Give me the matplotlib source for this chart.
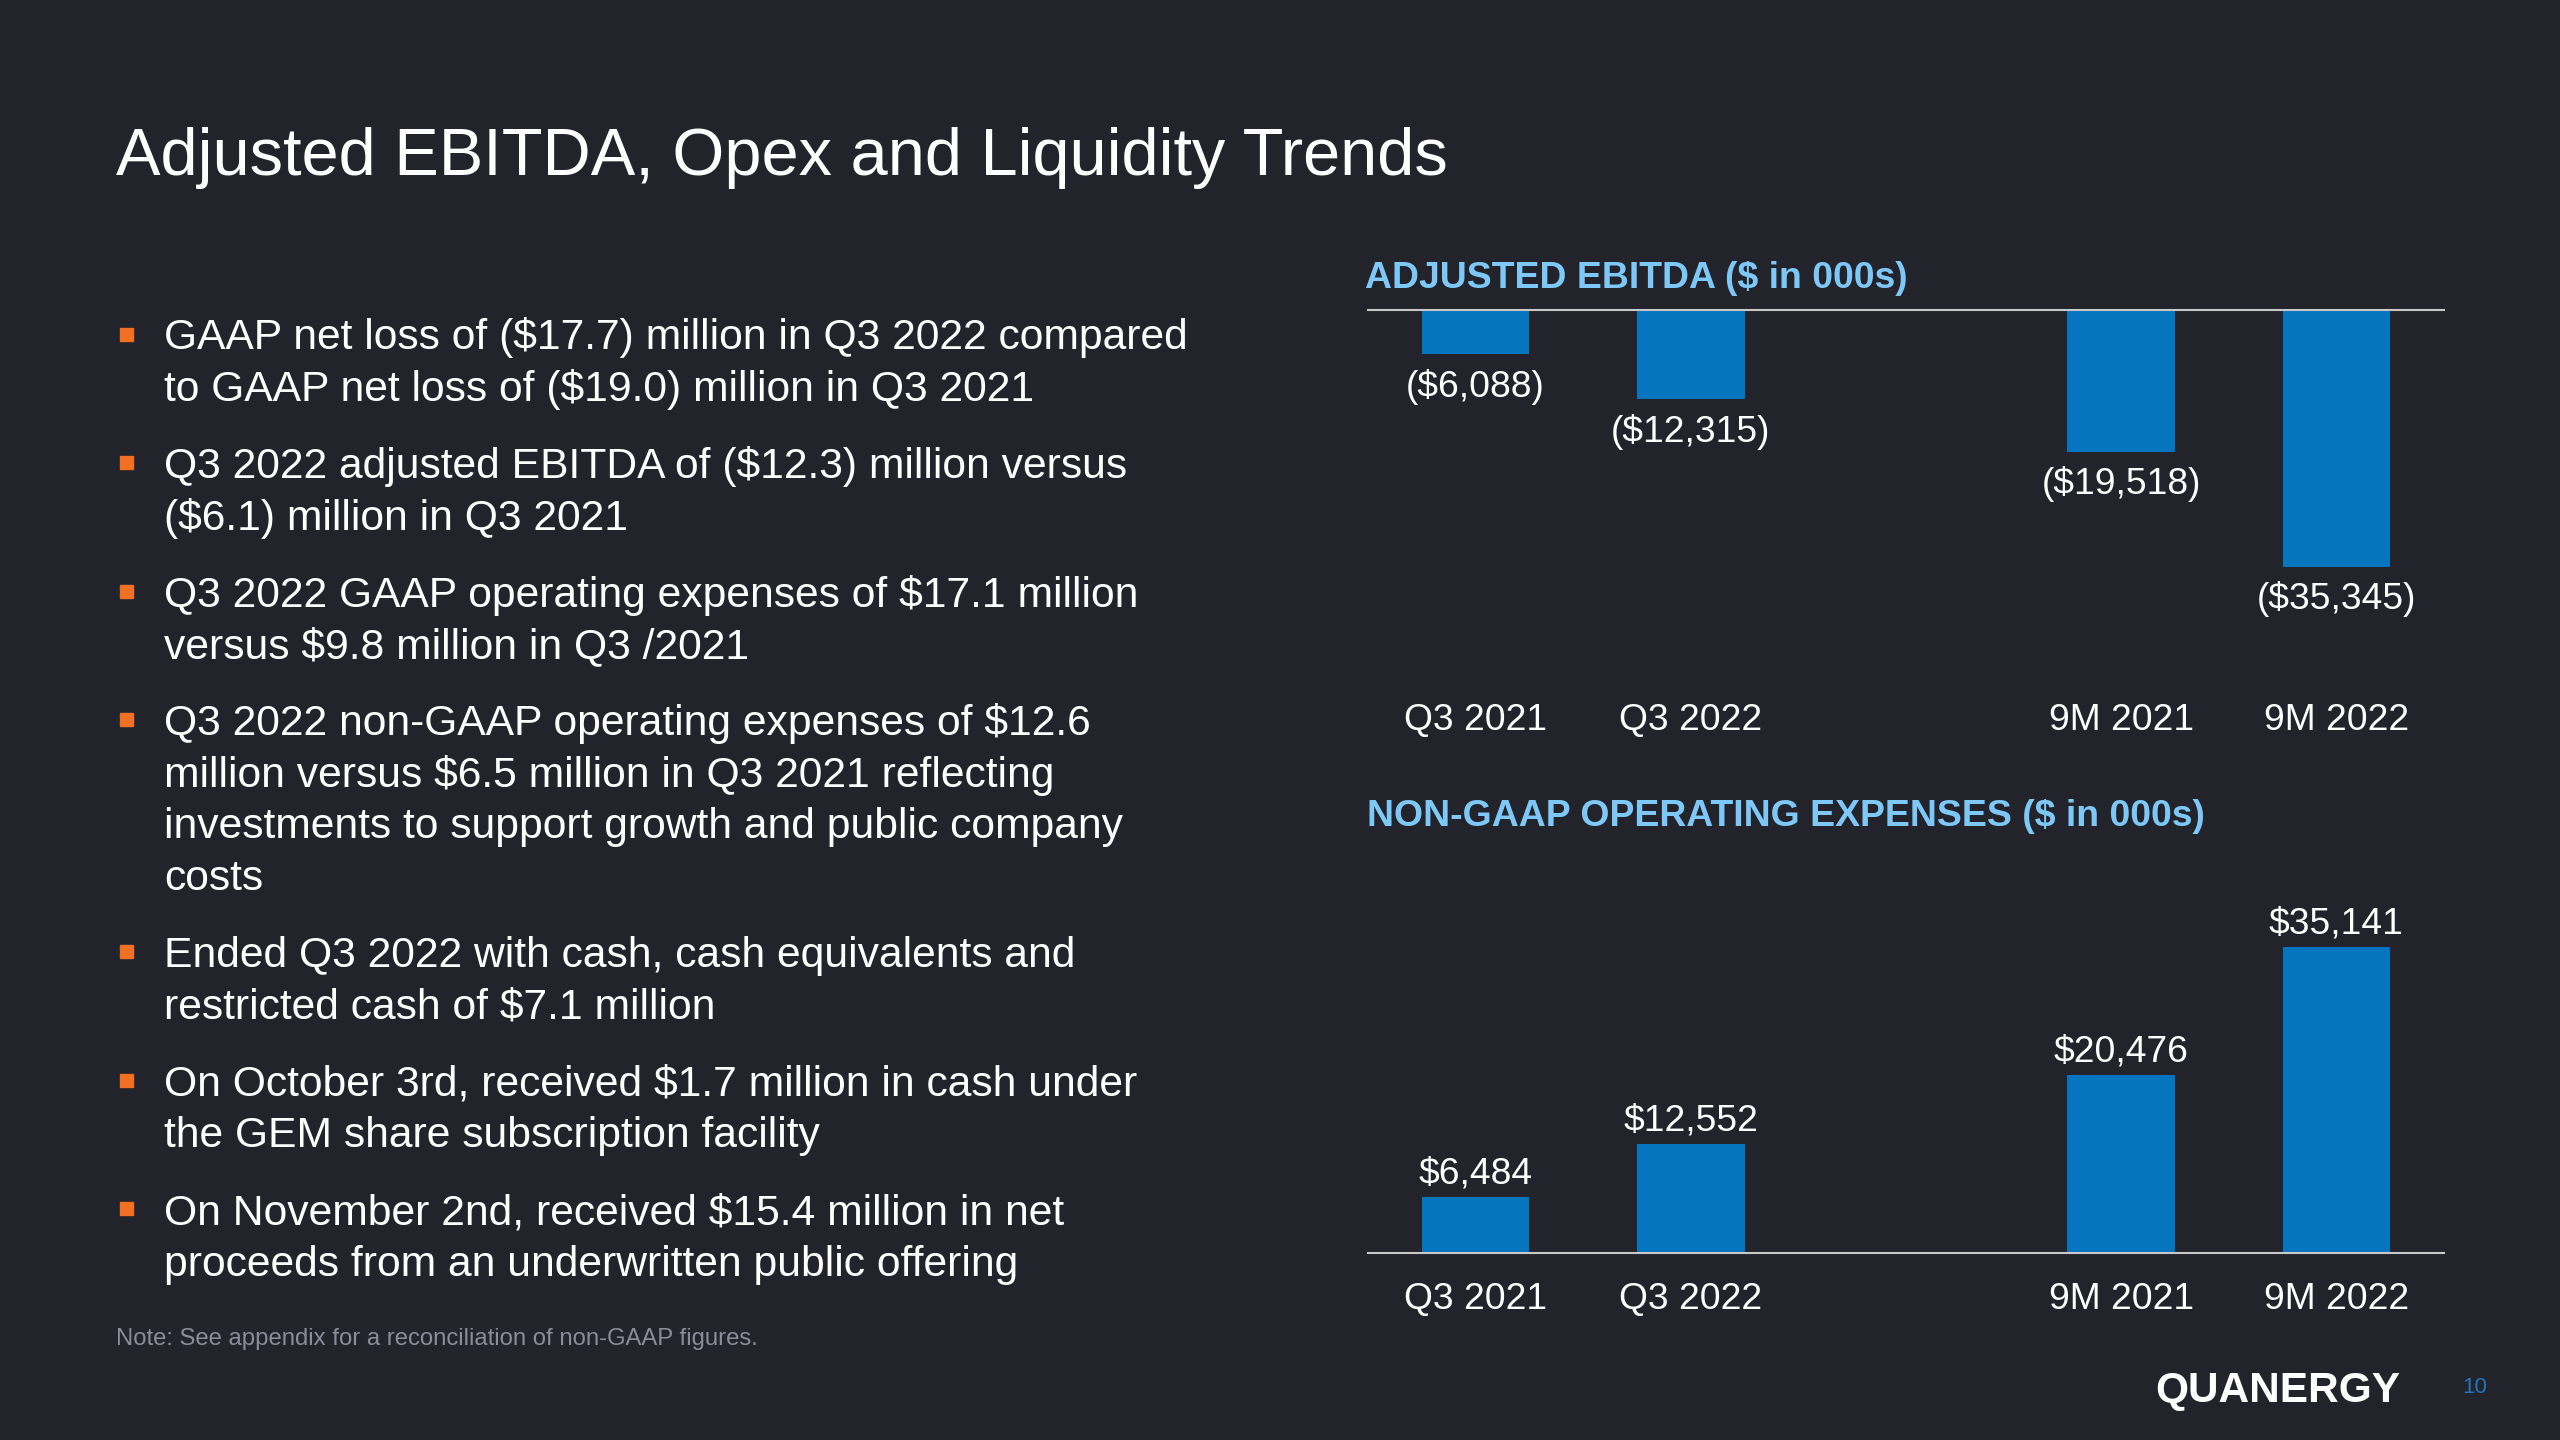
import matplotlib
matplotlib.use("Agg")
import matplotlib.pyplot as plt
from matplotlib.patches import Rectangle

plt.rcParams['font.family'] = ['Liberation Sans', 'DejaVu Sans']

# ---------------- data ----------------
slide_title = "Adjusted EBITDA, Opex and Liquidity Trends"
categories = ["Q3 2021", "Q3 2022", "9M 2021", "9M 2022"]
ebitda_values = [-6088, -12315, -19518, -35345]
ebitda_labels = ["($6,088)", "($12,315)", "($19,518)", "($35,345)"]
opex_values = [6484, 12552, 20476, 35141]
opex_labels = ["$6,484", "$12,552", "$20,476", "$35,141"]
chart1_title = "ADJUSTED EBITDA ($ in 000s)"
chart2_title = "NON-GAAP OPERATING EXPENSES ($ in 000s)"
bullets = [
    ["GAAP net loss of ($17.7) million in Q3 2022 compared",
     "to GAAP net loss of ($19.0) million in Q3 2021"],
    ["Q3 2022 adjusted EBITDA of ($12.3) million versus",
     "($6.1) million in Q3 2021"],
    ["Q3 2022 GAAP operating expenses of $17.1 million",
     "versus $9.8 million in Q3 /2021"],
    ["Q3 2022 non-GAAP operating expenses of $12.6",
     "million versus $6.5 million in Q3 2021 reflecting",
     "investments to support growth and public company",
     "costs"],
    ["Ended Q3 2022 with cash, cash equivalents and",
     "restricted cash of $7.1 million"],
    ["On October 3rd, received $1.7 million in cash under",
     "the GEM share subscription facility"],
    ["On November 2nd, received $15.4 million in net",
     "proceeds from an underwritten public offering"],
]
note_text = "Note: See appendix for a reconciliation of non-GAAP figures."
logo_text = "QUANERGY"
page_number = "10"

# ---------------- style ----------------
W, H = 2560, 1440
BG = '#22232B'
BAR = '#0575C0'
TITLE_BLUE = '#7DC8F7'
ORANGE = '#F36F21'
LINE = '#C8C8C8'
TEXT = '#FFFFFF'
NOTE = '#8A8C98'
PAGE = '#1F74BC'

# gap between the quarter pair and the nine-month pair
x_pos = [0, 1, 3, 4]

fig = plt.figure(figsize=(25.6, 14.4), dpi=100, facecolor=BG)
renderer = fig.canvas.get_renderer()


def fx(x):
    return x / W


def fy(y):
    return 1 - y / H


def fit(t, target):
    bb = t.get_window_extent(renderer)
    t.set_fontsize(t.get_fontsize() * target / bb.width)
    return t.get_fontsize()


# title
t = fig.text(fx(116), fy(175), slide_title, color=TEXT, fontsize=48,
             ha='left', va='baseline')
fit(t, 1331)

# bullets
probe = fig.text(0, 0, bullets[0][0], fontsize=32)
bsize = fit(probe, 1026)
probe.remove()
line_pitch = 51.5
para_gap = 25.6
y = 349.5
for para in bullets:
    cap_c = y - 15.5
    fig.patches.append(Rectangle((fx(119.5), fy(cap_c + 6.5)), 13 / W, 13 / H,
                                 transform=fig.transFigure, color=ORANGE,
                                 figure=fig))
    for line in para:
        fig.text(fx(164), fy(y), line, color=TEXT, fontsize=bsize,
                 ha='left', va='baseline')
        y += line_pitch
    y += para_gap

# note
t = fig.text(fx(116), fy(1345.5), note_text, color=NOTE, fontsize=17,
             ha='left', va='baseline')
fit(t, 643)

# logo & page number
t = fig.text(fx(2155), fy(1402), logo_text, color='white', fontsize=31,
             fontweight='bold', ha='left', va='baseline')
fit(t, 244)
fig.text(fx(2475), fy(1393), page_number, color=PAGE, fontsize=16,
         ha='center', va='baseline')

# chart titles
t = fig.text(fx(1365), fy(287.5), chart1_title, color=TITLE_BLUE, fontsize=27,
             fontweight='bold', ha='left', va='baseline')
fit(t, 542)
t = fig.text(fx(1367), fy(826.5), chart2_title, color=TITLE_BLUE, fontsize=27,
             fontweight='bold', ha='left', va='baseline')
fit(t, 838)

LABEL_FS = 26.8


def style_axes(ax):
    ax.set_facecolor('none')
    for s in ax.spines.values():
        s.set_visible(False)
    ax.set_xticks([])
    ax.set_yticks([])
    ax.set_xlim(-0.5, 4.5)


# chart 1: adjusted EBITDA (negative bars hanging from top line)
ax1 = fig.add_axes([fx(1368), fy(687.7), 1076 / W, (687.7 - 310) / H])
style_axes(ax1)
ax1.set_ylim(-52000, 0)
ax1.bar(x_pos, ebitda_values, width=0.5, color=BAR)
ax1.spines['top'].set_visible(True)
ax1.spines['top'].set_color(LINE)
ax1.spines['top'].set_linewidth(1.5)
for xp, v, lab in zip(x_pos, ebitda_values, ebitda_labels):
    ax1.annotate(lab, (xp, v), xytext=(0, -23.5), textcoords='offset points',
                 ha='center', va='center', fontsize=LABEL_FS, color=TEXT)
for xp, c in zip(x_pos, categories):
    ax1.annotate(c, (xp, 0), xycoords=('data', 'axes fraction'),
                 xytext=(0, -23.5), textcoords='offset points',
                 ha='center', va='center', fontsize=LABEL_FS, color=TEXT)

# chart 2: non-GAAP opex
ax2 = fig.add_axes([fx(1368), fy(1253), 1076 / W, 391.9 / H])
style_axes(ax2)
ax2.set_ylim(0, 45000)
ax2.bar(x_pos, opex_values, width=0.5, color=BAR)
ax2.spines['bottom'].set_visible(True)
ax2.spines['bottom'].set_color(LINE)
ax2.spines['bottom'].set_linewidth(1.5)
for xp, v, lab in zip(x_pos, opex_values, opex_labels):
    ax2.annotate(lab, (xp, v), xytext=(0, 16.5), textcoords='offset points',
                 ha='center', va='center', fontsize=LABEL_FS, color=TEXT)
for xp, c in zip(x_pos, categories):
    ax2.annotate(c, (xp, 0), xytext=(0, -33.6), textcoords='offset points',
                 ha='center', va='center', fontsize=LABEL_FS, color=TEXT)

fig.savefig("out.png", dpi=100, facecolor=BG)
